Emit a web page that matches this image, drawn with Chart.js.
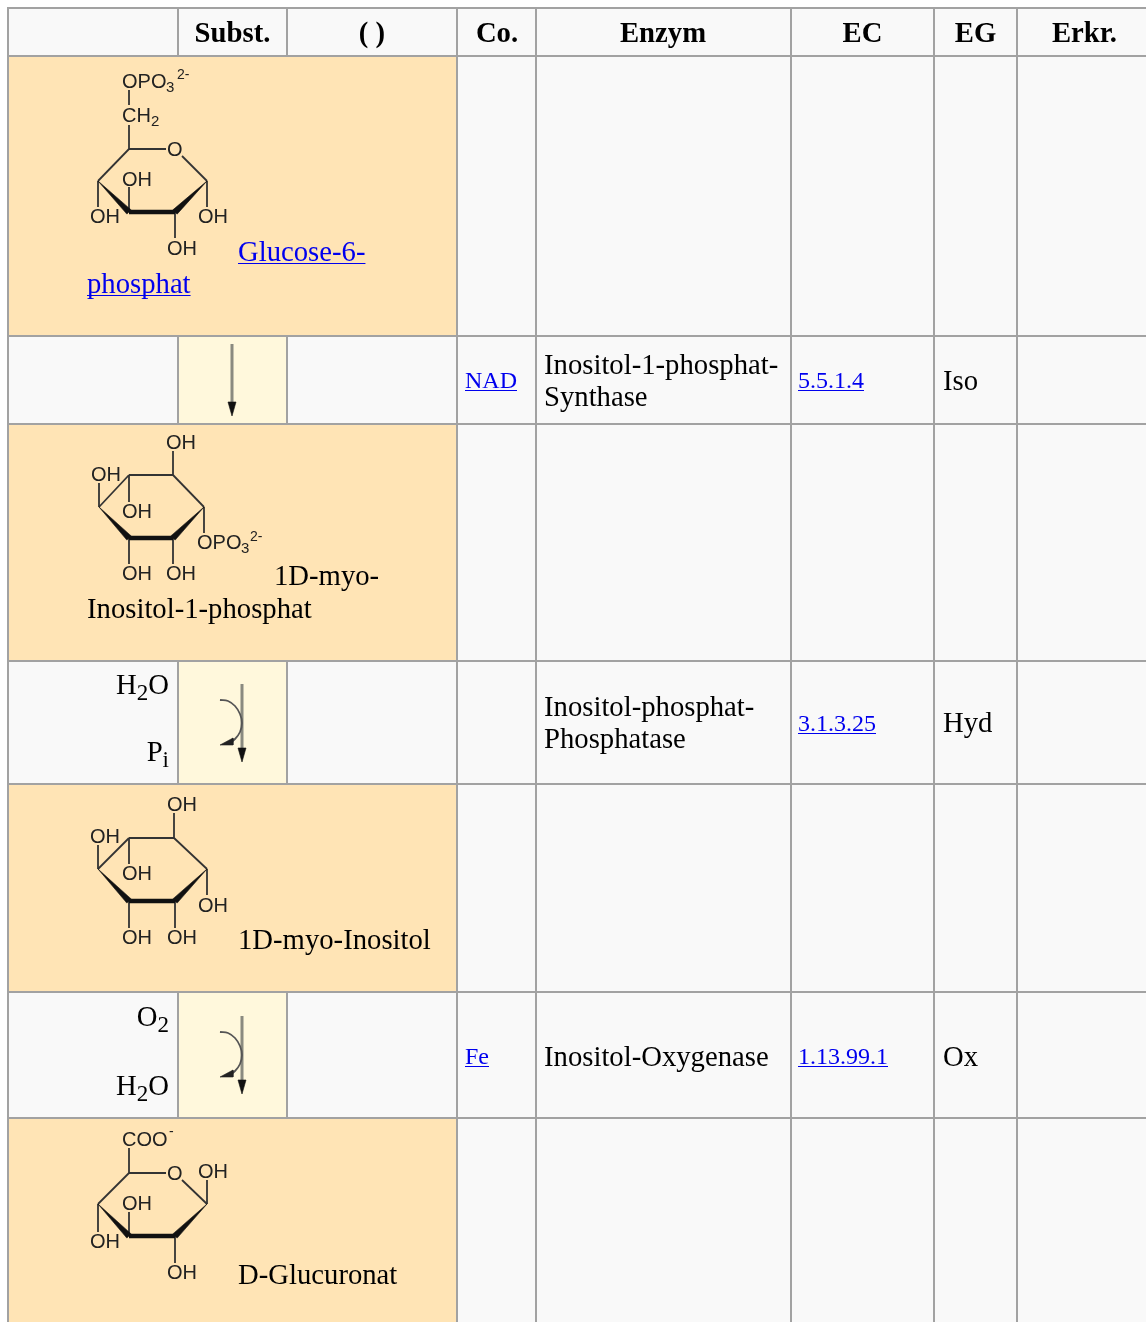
<!DOCTYPE html>
<html lang="de"><head><meta charset="utf-8">
<style>html,body{margin:0;padding:0;background:#fff}canvas{display:block}</style>
<script src="https://cdn.jsdelivr.net/npm/chart.js@4"></script></head>
<body><canvas id="c" width="1146" height="1322"></canvas>
<script>
// ---- table structure (in picture units) ----
const colEdges = [8, 178, 287, 457, 536, 791, 934, 1017, 1150];
const rowEdges = [8, 56, 336, 424, 661, 784, 992, 1118, 1326];
const spanRows = [1, 3, 5, 7];          // rows whose first three columns are merged
const arrowRows = [2, 4, 6];
const headers = ['Subst.', '( )', 'Co.', 'Enzym', 'EC', 'EG', 'Erkr.'];
const headerCenters = [232.5, 372, 497, 663, 862.5, 975.5, 1084.5];
const tableGrey = '#a2a2a2', cellGrey = '#f9f9f9', substrate = '#ffe4b5', step = '#fff8dc';

// ---- molecules: ring atoms, thin bonds, labels [text, left x, centre y, size] ----
const ringG6P = [[129,149],[175,149],[207,181],[175,212],[129,212],[98,181]];
const bondsG6P = [[129,149,166,149],[182,156,207,181],[98,181,129,149],[129,149,129,125],[129,105,129,90],
  [129,212,129,187],[98,181,98,207],[207,181,207,207],[175,212,175,238]];
const labelsG6P = [['OPO',122,81,20],['3',166,87,15],['2-',177,74,14],['CH',122,115,20],['2',151,121,15],['O',167,149,20],['OH',122,179,20],['OH',90,216,20],['OH',198,216,20],['OH',167,248,20]];

const ringIP = [[129,475],[173,475],[204,507],[173,538],[129,538],[99,507]];
const bondsIP = [[129,475,173,475],[173,475,204,507],[99,507,129,475],[173,475,173,451],[99,507,99,483],
  [129,475,129,502],[204,507,204,533],[129,538,129,564],[173,538,173,564]];
const labelsIP = [['OH',166,442,20],['OH',91,474,20],['OH',122,511,20],['OPO',197,542,20],['3',241,548,15],['2-',250,536,14],['OH',122,573,20],['OH',166,573,20]];

const ringIno = [[129,838],[174,838],[207,869],[175,901],[129,901],[98,869]];
const bondsIno = [[129,838,174,838],[174,838,207,869],[98,869,129,838],[174,838,174,813],[98,869,98,845],
  [129,838,129,864],[207,869,207,895],[129,901,129,928],[175,901,175,928]];
const labelsIno = [['OH',167,804,20],['OH',90,836,20],['OH',122,873,20],['OH',198,905,20],['OH',122,937,20],['OH',167,937,20]];

const ringGlcA = [[129,1173],[175,1173],[207,1204],[175,1236],[129,1236],[98,1204]];
const bondsGlcA = [[129,1173,166,1173],[182,1180,207,1204],[98,1204,129,1173],[129,1173,129,1148],
  [207,1204,207,1180],[129,1236,129,1212],[98,1204,98,1232],[175,1236,175,1263]];
const labelsGlcA = [['COO',122,1139,20],['-',169,1131,14],['O',167,1173,20],['OH',198,1171,20],['OH',122,1203,20],['OH',90,1241,20],['OH',167,1272,20]];

// ---- reaction arrows ----
const straightArrow = { x: 232, from: 344, to: 402, headTip: 416, headHalf: 4 };
const sideArrowOffsets = [0, 332];
const sideMain = { x: 242, from: 684, to: 748, headTip: 762, headHalf: 4 };
const sideArc = [[220,700],[228,701],[235,706],[240,714],[242,723],[240,732],[235,739],[228,744]];
const sideHead = [[220,745],[233,738],[233,745]];

// ---- texts: [text, x, baseline] ----
const bodyTexts = [
  ['Inositol-1-phosphat-',544,374],['Synthase',544,406],['Iso',943,390],
  ['1D-myo-',274,585],['Inositol-1-phosphat',87,618],
  ['Inositol-phosphat-',544,716],['Phosphatase',544,748],['Hyd',943,732],
  ['1D-myo-Inositol',238,949],
  ['Inositol-Oxygenase',544,1066],['Ox',943,1066],
  ['D-Glucuronat',238,1284]
];
const linkTexts = [['Glucose-6-',238,261],['phosphat',87,293]];
const smallLinks = [['NAD',465,388],['5.5.1.4',798,388],['3.1.3.25',798,731],['Fe',465,1064],['1.13.99.1',798,1064]];
const sideTexts = [ // right-aligned runs: [[text, isSub]...], right x, baseline
  [[['H',0],['2',1],['O',0]],169,694],
  [[['P',0],['i',1]],169,761],
  [[['O',0],['2',1]],169,1026],
  [[['H',0],['2',1],['O',0]],169,1095]
];

// ---- datasets ----
const datasets = [];
const line = (pts, color, width, extra) => datasets.push(Object.assign({
  data: pts.map(p => ({x:p[0], y:p[1]})), showLine:true, borderColor:color, borderWidth:width,
  pointRadius:0, fill:false, tension:0, borderCapStyle:'butt', borderJoinStyle:'miter'
}, extra||{}));
const poly = (pts, color, extra) => line(pts.concat([pts[0]]), color, 0.6, Object.assign({fill:'shape', backgroundColor:color}, extra||{}));
const rect = (x0,x1,y0,y1,color) => poly([[x0,y0],[x1,y0],[x1,y1],[x0,y1]], color);

// cell backgrounds
rect(colEdges[0], colEdges[8], rowEdges[0], rowEdges[8], cellGrey);
spanRows.forEach(r => rect(colEdges[0], colEdges[3], rowEdges[r], rowEdges[r+1], substrate));
arrowRows.forEach(r => rect(colEdges[1], colEdges[2], rowEdges[r], rowEdges[r+1], step));

// grid
rowEdges.slice(0,8).forEach(y => line([[7,y],[1150,y]], tableGrey, 2));
[0,3,4,5,6,7].forEach(i => line([[colEdges[i],7],[colEdges[i],1326]], tableGrey, 2));
[0,2,4,6].forEach(r => [1,2].forEach(i => line([[colEdges[i],rowEdges[r]],[colEdges[i],rowEdges[r+1]]], tableGrey, 2)));

// molecules
const ink = '#333333';
const wedge = (a,b,h) => {
  const dx=b[0]-a[0], dy=b[1]-a[1], l=Math.hypot(dx,dy), nx=-dy/l*h, ny=dx/l*h;
  return [a,[b[0]+nx,b[1]+ny],[b[0]-nx,b[1]-ny]];
};
[[ringG6P,bondsG6P],[ringIP,bondsIP],[ringIno,bondsIno],[ringGlcA,bondsGlcA]].forEach(([ring,bonds]) => {
  bonds.forEach(b => line([[b[0],b[1]],[b[2],b[3]]], ink, 1.8, {soft:true}));
  poly(wedge(ring[5],ring[4],3), '#111', {soft:true});
  poly(wedge(ring[2],ring[3],3), '#111', {soft:true});
  line([ring[4],ring[3]], '#111', 4.5, {soft:true});
});

// arrows
const arrowLine = (a, dy) => {
  line([[a.x,a.from+dy],[a.x,a.to+dy]], '#8a8a80', 3, {soft:true});
  poly([[a.x-a.headHalf,a.to+dy],[a.x+a.headHalf,a.to+dy],[a.x,a.headTip+dy]], '#111', {soft:true});
};
arrowLine(straightArrow, 0);
sideArrowOffsets.forEach(dy => {
  arrowLine(sideMain, dy);
  line(sideArc.map(p=>[p[0],p[1]+dy]), '#555', 1.8, {soft:true, tension:0.4});
  poly(sideHead.map(p=>[p[0],p[1]+dy]), '#222', {soft:true});
});
// the library paints the first dataset last, so turn the list round to paint cells first
datasets.reverse();

// ---- text plugin ----
const SERIF = '"Liberation Serif", serif', SANS = '"Liberation Sans", sans-serif';
const softInk = {
  id:'softInk',
  beforeDatasetDraw(chart,args){ if(args.meta._dataset.soft){ chart.ctx.save(); chart.ctx.filter='blur(0.55px)'; } },
  afterDatasetDraw(chart,args){ if(args.meta._dataset.soft){ chart.ctx.restore(); } }
};
const tableText = {
  id:'tableText',
  afterDatasetsDraw(chart){
    const ctx=chart.ctx, X=chart.scales.x, Y=chart.scales.y;
    const px=v=>X.getPixelForValue(v), py=v=>Y.getPixelForValue(v);
    ctx.save(); ctx.textBaseline='alphabetic';
    const put=(t,x,y,font,color,align)=>{ctx.font=font;ctx.fillStyle=color;ctx.textAlign=align||'left';ctx.fillText(t,px(x),py(y));};
    const link=(t,x,y,size)=>{
      put(t,x,y,size+'px '+SERIF,'#0000ee');
      const w=ctx.measureText(t).width; ctx.fillStyle='#0000ee';
      ctx.fillRect(px(x),py(y)+2,w,Math.max(1,Math.round(size/20)));
    };
    headers.forEach((h,i)=>put(h,headerCenters[i],42,'bold 28.7px '+SERIF,'#000','center'));
    bodyTexts.forEach(t=>put(t[0],t[1],t[2],'28.7px '+SERIF,'#000'));
    linkTexts.forEach(t=>link(t[0],t[1],t[2],28.7));
    smallLinks.forEach(t=>link(t[0],t[1],t[2],24));
    sideTexts.forEach(([runs,right,base])=>{
      const font=s=>(s?'23px ':'28.7px ')+SERIF;
      let w=0; runs.forEach(r=>{ctx.font=font(r[1]);w+=ctx.measureText(r[0]).width;});
      let x=right-w;
      runs.forEach(r=>{ put(r[0],x,base+(r[1]?6:0),font(r[1]),'#000'); x+=ctx.measureText(r[0]).width; });
    });
    // structure-formula labels
    ctx.filter='blur(0.5px)';
    [labelsG6P,labelsIP,labelsIno,labelsGlcA].forEach(list=>list.forEach(l=>{
      put(l[0],l[1],l[2]+l[3]*0.34,l[3]+'px '+SANS,'#222');
    }));
    ctx.restore();
  }
};

new Chart(document.getElementById('c'),{
  type:'scatter',
  data:{datasets},
  plugins:[softInk,tableText],
  options:{
    responsive:false, animation:false, events:[],
    layout:{padding:0},
    plugins:{legend:{display:false},tooltip:{enabled:false},title:{display:false}},
    scales:{
      x:{type:'linear',min:0,max:1146,display:false},
      y:{type:'linear',min:0,max:1322,reverse:true,display:false}
    }
  }
});
</script></body></html>
